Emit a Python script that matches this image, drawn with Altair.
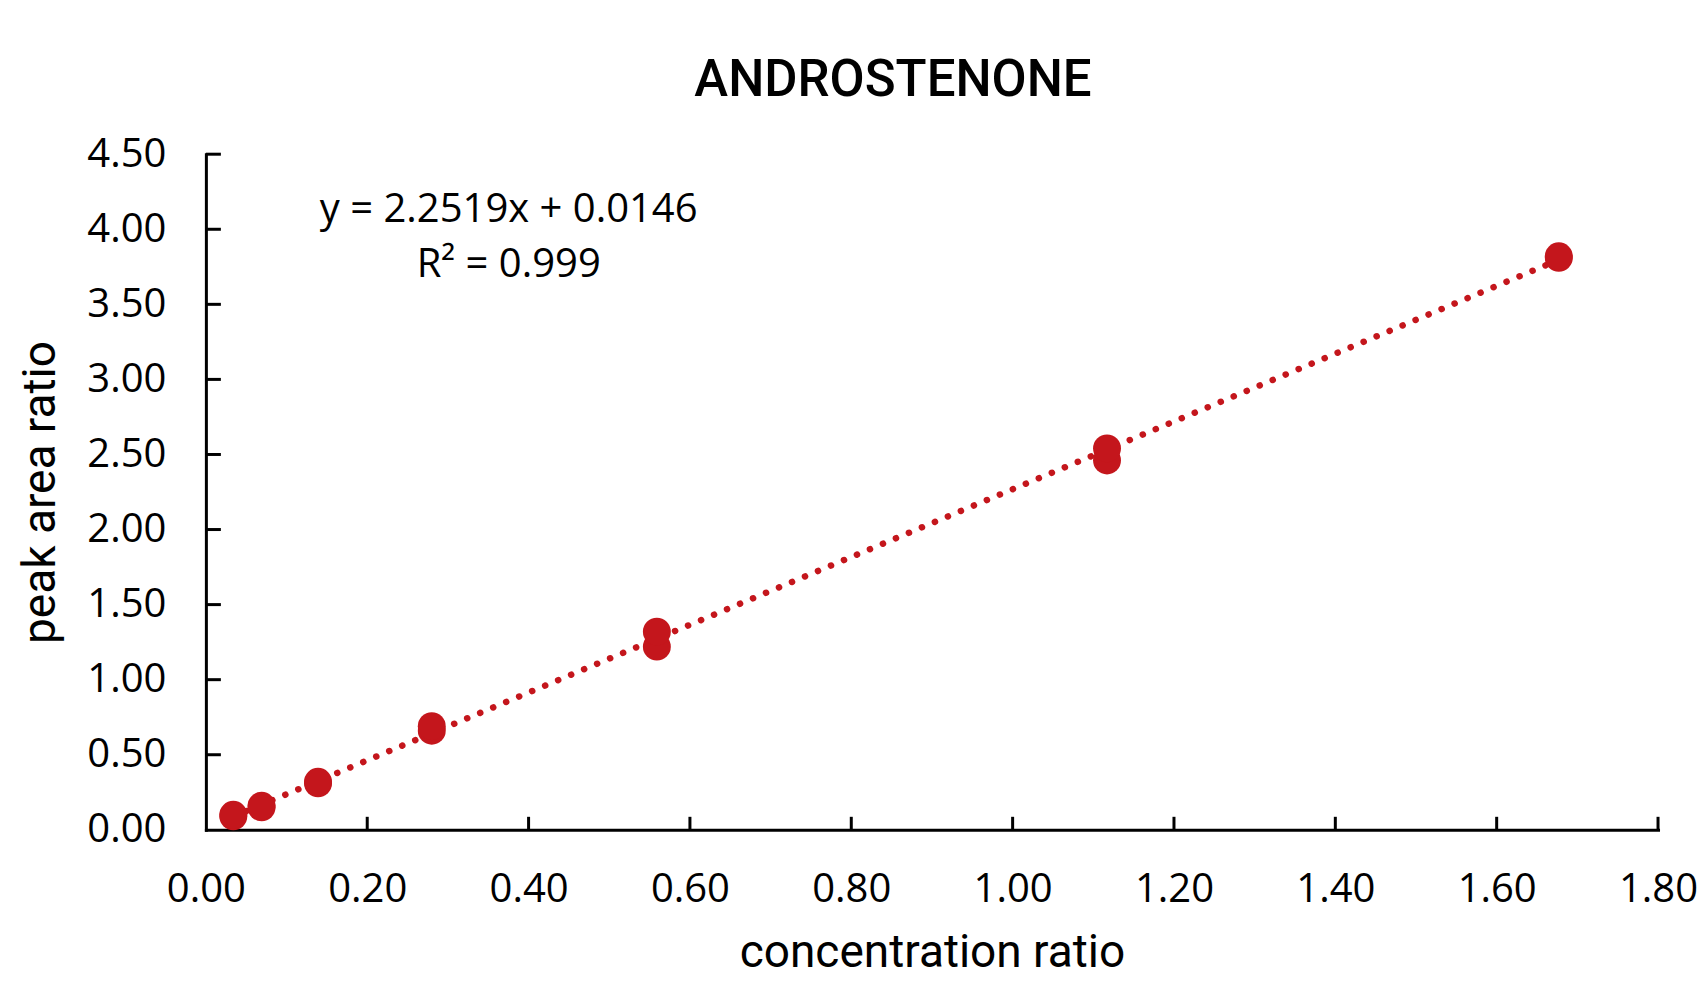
import altair as alt
import pandas as pd

# ---- data ----
conc = [0.034, 0.034, 0.069, 0.069, 0.139, 0.139, 0.280, 0.280,
        0.559, 0.559, 1.117, 1.117, 1.677, 1.677]
ratio = [0.09, 0.10, 0.15, 0.16, 0.31, 0.32, 0.66, 0.69,
         1.22, 1.32, 2.46, 2.54, 3.81, 3.82]
x_ticks = [0.0, 0.2, 0.4, 0.6, 0.8, 1.0, 1.2, 1.4, 1.6, 1.8]
y_ticks = [0.0, 0.5, 1.0, 1.5, 2.0, 2.5, 3.0, 3.5, 4.0, 4.5]
chart_title = "ANDROSTENONE"
eq_text = ["y = 2.2519x + 0.0146", "R² = 0.999"]
x_title = "concentration ratio"
y_title = "peak area ratio"

W, H = 1453, 676
RED = "#c4161c"
LABEL_FONT = "Open Sans"
TITLE_FONT = "Roboto"

df = pd.DataFrame({"conc": conc, "ratio": ratio})
xt = pd.DataFrame({"v": x_ticks[1:]})
yt = pd.DataFrame({"v": y_ticks[1:]})

xs = alt.Scale(domain=[0, 1.8], nice=False, zero=False)
ys = alt.Scale(domain=[0, 4.5], nice=False)

x_axis = alt.Axis(values=x_ticks, format=".2f", title=x_title, grid=False,
                  ticks=False, tickSize=0, domainColor="black", domainWidth=3,
                  domainCap="square",
                  labelFont=LABEL_FONT, labelFontSize=40, labelColor="black",
                  labelPadding=40, labelFlush=False,
                  titleFont=TITLE_FONT, titleFontSize=46, titleFontWeight="normal",
                  titleColor="black", titleX=W / 2, titleY=137,
                  titleBaseline="alphabetic", titleAlign="center")
y_axis = alt.Axis(values=y_ticks, format=".2f", title=y_title, grid=False,
                  ticks=False, tickSize=0, domainColor="black", domainWidth=3,
                  domainCap="square",
                  labelFont=LABEL_FONT, labelFontSize=40, labelColor="black",
                  labelPadding=40, labelFlush=False,
                  titleFont=TITLE_FONT, titleFontSize=46, titleFontWeight="normal",
                  titleColor="black", titleX=-151, titleY=H / 2, titleAngle=270,
                  titleBaseline="alphabetic", titleAlign="center")

base = alt.Chart(df)

points = base.mark_circle(size=780, color=RED, opacity=1).encode(
    x=alt.X("conc:Q", scale=xs, axis=x_axis),
    y=alt.Y("ratio:Q", scale=ys, axis=y_axis),
)

trend = base.transform_regression("conc", "ratio").mark_line(
    color=RED, strokeWidth=6.5, strokeDash=[0.1, 14], strokeCap="round"
).encode(
    x=alt.X("conc:Q", scale=xs),
    y=alt.Y("ratio:Q", scale=ys),
)

ytick_rules = alt.Chart(yt).mark_rule(color="black", strokeWidth=3).encode(
    y=alt.Y("v:Q", scale=ys), x=alt.value(0), x2=alt.value(15)
)
xtick_rules = alt.Chart(xt).mark_rule(color="black", strokeWidth=3).encode(
    x=alt.X("v:Q", scale=xs), y=alt.value(H), y2=alt.value(H - 13)
)

eq1 = alt.Chart(pd.DataFrame({"t": [eq_text[0]]})).mark_text(
    font=LABEL_FONT, fontSize=40, color="black", align="center", baseline="middle"
).encode(text="t:N", x=alt.value(303), y=alt.value(56))
eq2 = alt.Chart(pd.DataFrame({"t": [eq_text[1]]})).mark_text(
    font=LABEL_FONT, fontSize=40, color="black", align="center", baseline="middle"
).encode(text="t:N", x=alt.value(303), y=alt.value(111))

chart = alt.layer(trend, points, ytick_rules, xtick_rules, eq1, eq2).properties(
    width=W, height=H,
    background="white",
    title=alt.TitleParams(chart_title, font=TITLE_FONT, fontSize=51, fontWeight=500,
                          color="black", anchor="middle", dx=-39, dy=71, offset=58,
                          baseline="alphabetic"),
    autosize=alt.AutoSizeParams(type="none"),
    padding={"left": 198, "top": 146, "right": 40, "bottom": 150},
).configure_view(strokeWidth=0, stroke="transparent")

chart.save("out.html", embed_options={"renderer": "svg", "actions": False})
